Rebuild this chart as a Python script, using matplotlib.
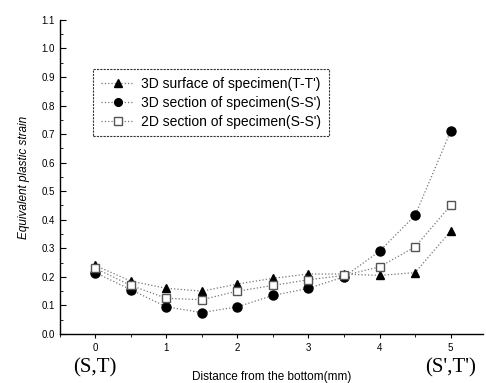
import numpy as np
import matplotlib.pyplot as plt
from matplotlib.ticker import MultipleLocator

plt.rcParams['font.family'] = ['Liberation Sans', 'DejaVu Sans']

# distances (mm)
x = [0, 0.5, 1, 1.5, 2, 2.5, 3, 3.5, 4, 4.5, 5]

# equivalent plastic strain
surf_3d = [0.24, 0.185, 0.16, 0.15, 0.175, 0.195, 0.21, 0.21, 0.205, 0.215, 0.36]
sect_3d = [0.215, 0.155, 0.095, 0.075, 0.095, 0.135, 0.16, 0.20, 0.29, 0.415, 0.71]
sect_2d = [0.23, 0.17, 0.125, 0.12, 0.15, 0.17, 0.19, 0.205, 0.235, 0.305, 0.45]

labels = ['3D surface of specimen(T-T\')',
          '3D section of specimen(S-S\')',
          '2D section of specimen(S-S\')']

fig = plt.figure(figsize=(4.86, 3.83), dpi=100)
ax = fig.add_axes([0.123, 0.128, 0.87, 0.82])

ax.plot(x, surf_3d, ls=':', color='#777777', lw=0.9, marker='^', ms=6,
        mfc='black', mec='black', label=labels[0])
ax.plot(x, sect_3d, ls=':', color='#777777', lw=0.9, marker='o', ms=6.5,
        mfc='black', mec='black', label=labels[1])
ax.plot(x, sect_2d, ls=':', color='#777777', lw=0.9, marker='s', ms=6,
        mfc='white', mec='#555555', label=labels[2])

ax.set_xlim(-0.5, 5.45)
ax.set_ylim(0, 1.1)
ax.yaxis.set_major_locator(MultipleLocator(0.1))
ax.yaxis.set_minor_locator(MultipleLocator(0.05))
ax.xaxis.set_major_locator(MultipleLocator(1))
ax.xaxis.set_minor_locator(MultipleLocator(0.5))
ax.yaxis.set_major_formatter(plt.FuncFormatter(lambda v, p: f'{v:.1f}'))
ax.tick_params(axis='y', direction='in', labelsize=7, length=4)
ax.tick_params(axis='y', which='minor', direction='in', length=2)
ax.tick_params(axis='x', direction='out', labelsize=7, length=3)
ax.tick_params(axis='x', which='minor', direction='out', length=2)

for s in ['top', 'right']:
    ax.spines[s].set_visible(False)
for s in ['left', 'bottom']:
    ax.spines[s].set_linestyle((0, (2, 1)))
    ax.spines[s].set_linewidth(1.0)

ax.set_xlabel('Distance from the bottom(mm)', fontsize=8.5, labelpad=13)
ax.set_ylabel('Equivalent plastic strain', fontsize=8.5, style='italic', labelpad=8)

ax.text(0, -0.12, '(S,T)', fontsize=15, family='Liberation Serif', ha='center',
        va='center', transform=ax.transData)
ax.text(5, -0.12, "(S',T')", fontsize=15, family='Liberation Serif', ha='center',
        va='center', transform=ax.transData)

leg = ax.legend(loc='upper left', bbox_to_anchor=(0.063, 0.865), fontsize=10,
                frameon=True, fancybox=False, edgecolor='black',
                handlelength=2.4, handletextpad=0.5, borderpad=0.55,
                labelspacing=0.35, markerscale=0.85)
leg.get_frame().set_linestyle((0, (2, 1)))
leg.get_frame().set_linewidth(0.8)

fig.savefig('out.png', dpi=100)
